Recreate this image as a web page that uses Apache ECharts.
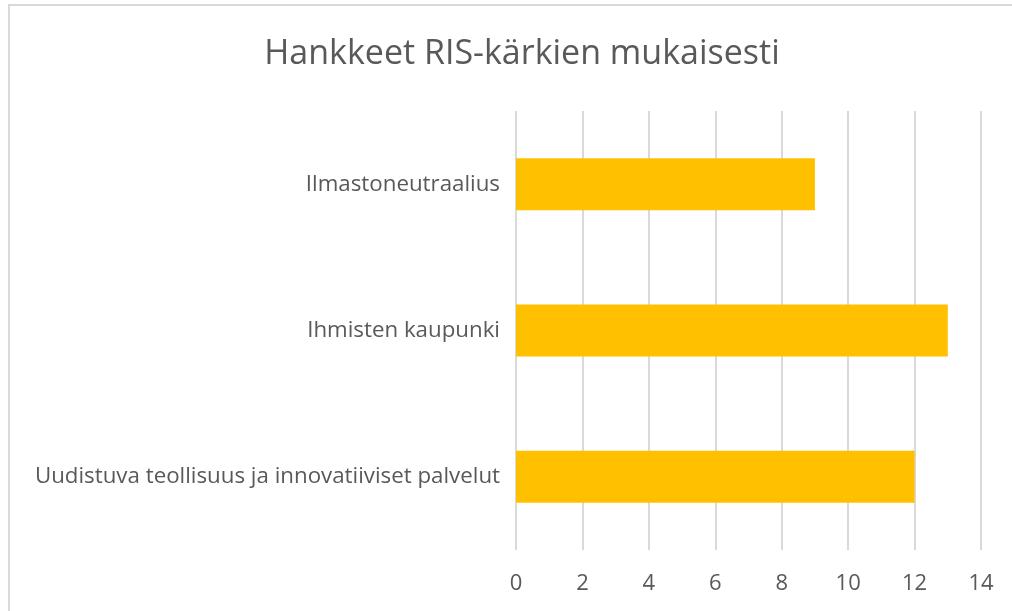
<!DOCTYPE html>
<html>
<head>
<meta charset="utf-8">
<script src="https://cdn.jsdelivr.net/npm/echarts@6/dist/echarts.min.js"></script>
<style>
html,body{margin:0;padding:0;background:#fff;overflow:hidden;}
#frame{position:absolute;left:8px;top:4px;width:1200px;height:800px;border-left:2px solid #d9d9d9;border-top:2px solid #d9d9d9;}
#chart{position:absolute;left:0;top:0;width:1012px;height:611px;}
</style>
</head>
<body>
<div id="frame"></div>
<div id="chart"></div>
<script>
const titleText = 'Hankkeet RIS-kärkien mukaisesti';
const categories = ['Uudistuva teollisuus ja innovatiiviset palvelut', 'Ihmisten kaupunki', 'Ilmastoneutraalius'];
const values = [12, 13, 9];
const xTicks = {min: 0, max: 14, interval: 2};

const chart = echarts.init(document.getElementById('chart'));
chart.setOption({
  backgroundColor: 'transparent',
  animation: false,
  title: {
    text: titleText,
    left: 517, top: 32, textAlign: 'center',
    textStyle: {fontFamily: 'Open Sans', fontSize: 34, fontWeight: 'normal', color: '#595959'}
  },
  grid: {left: 516, right: 31, top: 111, bottom: 61, containLabel: false},
  xAxis: {
    type: 'value', min: xTicks.min, max: xTicks.max, interval: xTicks.interval,
    axisLine: {show: false}, axisTick: {show: false},
    splitLine: {show: true, lineStyle: {color: '#d9d9d9', width: 2}},
    axisLabel: {margin: 23, fontFamily: 'Open Sans', fontSize: 22, color: '#595959'}
  },
  yAxis: {
    type: 'category', data: categories,
    axisLine: {show: false}, axisTick: {show: false},
    axisLabel: {margin: 16, fontFamily: 'Open Sans', fontSize: 22.3, color: '#595959'}
  },
  series: [{
    type: 'bar', data: values, barWidth: 52,
    itemStyle: {color: '#FFC000'}
  }]
});
</script>
</body>
</html>
